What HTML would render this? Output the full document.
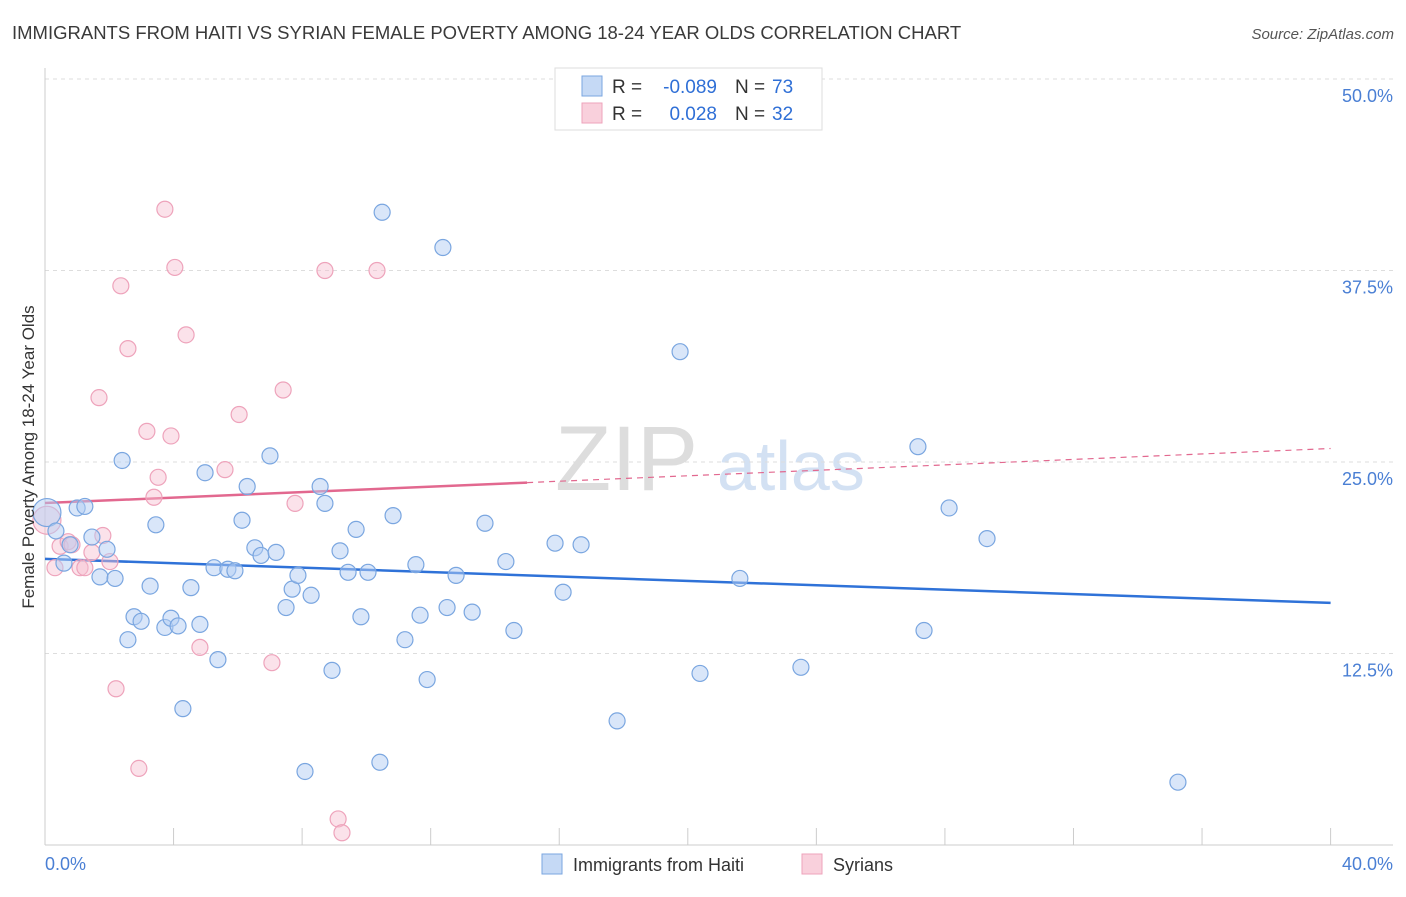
<!DOCTYPE html>
<html><head><meta charset="utf-8"><style>
body{margin:0;background:#fff;font-family:"Liberation Sans",sans-serif;}
svg text{font-family:"Liberation Sans",sans-serif;}
</style></head><body>
<svg id="chart" width="1406" height="892" viewBox="0 0 1406 892" xmlns="http://www.w3.org/2000/svg">
<text x="12" y="39" font-size="18.5" fill="#3a3a3a">IMMIGRANTS FROM HAITI VS SYRIAN FEMALE POVERTY AMONG 18-24 YEAR OLDS CORRELATION CHART</text>
<text x="1394" y="39" font-size="15" fill="#555" text-anchor="end" font-style="italic">Source: ZipAtlas.com</text>
<g>
<text x="555" y="490" font-size="92" fill="#ddd" font-family="Liberation Serif, serif">ZIP</text>
<text x="717" y="490" font-size="70" fill="#d3e1f3">atlas</text>
</g>
<g id="grid"></g>
<g id="axes"></g>
<g id="lines"></g>
<g id="pts"></g>
<text transform="translate(34,457) rotate(-90)" font-size="17" fill="#333" text-anchor="middle">Female Poverty Among 18-24 Year Olds</text>
<g>
<rect x="555" y="68" width="267" height="62" fill="#fff" stroke="#ddd"/>
<rect x="582" y="76" width="20" height="20" fill="#c5d9f5" stroke="#7aa6e0"/>
<rect x="582" y="103" width="20" height="20" fill="#f9d0dc" stroke="#eea3bb"/>
<text x="612" y="93" font-size="19" fill="#333">R =</text>
<text x="717" y="93" font-size="19" fill="#2f6fd6" text-anchor="end">-0.089</text>
<text x="735" y="93" font-size="19" fill="#333">N =</text>
<text x="772" y="93" font-size="19" fill="#2f6fd6">73</text>
<text x="612" y="120" font-size="19" fill="#333">R =</text>
<text x="717" y="120" font-size="19" fill="#2f6fd6" text-anchor="end">0.028</text>
<text x="735" y="120" font-size="19" fill="#333">N =</text>
<text x="772" y="120" font-size="19" fill="#2f6fd6">32</text>
</g>
<g>
<rect x="542" y="854" width="20" height="20" fill="#c5d9f5" stroke="#7aa6e0"/>
<text x="573" y="871" font-size="18" fill="#333">Immigrants from Haiti</text>
<rect x="802" y="854" width="20" height="20" fill="#f9d0dc" stroke="#eea3bb"/>
<text x="833" y="871" font-size="18" fill="#333">Syrians</text>
</g>
</svg>
<script>
const blueX=[0.06,0.34,1.0,1.24,0.59,0.78,1.46,1.93,1.71,2.18,2.40,2.58,2.77,2.99,3.27,3.45,3.73,3.92,4.14,4.29,4.54,4.82,4.98,5.26,5.38,5.69,5.91,6.13,6.29,6.53,6.72,7.00,7.19,7.50,7.69,7.87,8.09,8.28,8.56,8.71,8.93,9.18,9.43,9.68,9.83,10.05,10.42,10.49,10.83,11.20,11.54,11.67,11.89,12.38,12.51,12.79,13.29,13.69,14.34,14.59,15.87,16.12,16.68,17.80,19.76,20.38,21.62,23.52,27.16,27.35,28.13,29.31,35.25];
const blueY=[21.7,20.5,22.0,22.1,18.4,19.6,20.1,19.3,17.5,17.4,25.1,13.4,14.9,14.6,16.9,20.9,14.2,14.8,14.3,8.9,16.8,14.4,24.3,18.1,12.1,18.0,17.9,21.2,23.4,19.4,18.9,25.4,19.1,15.5,16.7,17.6,4.8,16.3,23.4,22.3,11.4,19.2,17.8,20.6,14.9,17.8,5.4,41.3,21.5,13.4,18.3,15.0,10.8,39.0,15.5,17.6,15.2,21.0,18.5,14.0,19.7,16.5,19.6,8.1,32.2,11.2,17.4,11.6,26.0,14.0,22.0,20.0,4.1];
const pinkX=[0.06,0.31,0.47,0.72,0.84,1.09,1.24,1.46,1.80,2.02,1.68,2.21,2.36,2.58,2.92,3.17,3.39,3.52,3.73,3.92,4.04,4.39,4.82,5.60,6.04,7.06,7.41,7.78,8.71,9.12,9.24,10.33];
const pinkY=[21.2,18.1,19.5,19.8,19.6,18.1,18.1,19.1,20.2,18.5,29.2,10.2,36.5,32.4,5.0,27.0,22.7,24.0,41.5,26.7,37.7,33.3,12.9,24.5,28.1,11.9,29.7,22.3,37.5,1.7,0.8,37.5];
const yTicks=[12.5,25.0,37.5,50.0];
const xTickVals=[0,4,8,12,16,20,24,28,32,36,40];
const xLabels=["0.0%","40.0%"];
const NS="http://www.w3.org/2000/svg";
const X=v=>45+v*32.14, Y=v=>845-v*15.32;
function mk(p,tag,a){const e=document.createElementNS(NS,tag);for(const k in a)e.setAttribute(k,a[k]);document.getElementById(p).appendChild(e);return e;}
yTicks.forEach(t=>{
 const l=mk('grid','line',{x1:45,x2:1393,y1:Y(t),y2:Y(t),stroke:'#ddd','stroke-dasharray':'4,4'});
 
 
 const tx=mk('grid','text',{x:1393,y:Y(t)+23,'font-size':18,fill:'#4a7fd4','text-anchor':'end'});
 tx.textContent=t.toFixed(1)+'%';
 
 
});
mk('axes','line',{x1:45,x2:45,y1:68,y2:845,stroke:'#ccc'});
mk('axes','line',{x1:45,x2:1393,y1:845,y2:845,stroke:'#ccc'});
xTickVals.forEach(v=>{const t=mk('axes','line',{x1:X(v),x2:X(v),y1:828,y2:845,stroke:'#ccc'});
 
 });
const l0=mk('axes','text',{x:45,y:870,'font-size':18,fill:'#4a7fd4'});l0.textContent=xLabels[0];


const l1=mk('axes','text',{x:1393,y:870,'font-size':18,fill:'#4a7fd4','text-anchor':'end'});l1.textContent=xLabels[1];


function reg(xs,ys){const n=xs.length;let mx=0,my=0;xs.forEach((x,i)=>{mx+=x;my+=ys[i]});mx/=n;my/=n;let sxy=0,sxx=0;xs.forEach((x,i)=>{sxy+=(x-mx)*(ys[i]-my);sxx+=(x-mx)**2});const b=sxy/sxx;return [my-b*mx,b];}
const [ba,bb]=reg(blueX,blueY),[pa,pb]=reg(pinkX,pinkY);
const bl=mk('lines','line',{x1:X(0),y1:Y(ba),x2:X(40),y2:Y(ba+bb*40),stroke:'#2f72d8','stroke-width':2.5});


const pl=mk('lines','line',{x1:X(0),y1:Y(pa),x2:X(15),y2:Y(pa+pb*15),stroke:'#e2688f','stroke-width':2.5});


const pd=mk('lines','line',{x1:X(15),y1:Y(pa+pb*15),x2:X(40),y2:Y(pa+pb*40),stroke:'#e2688f','stroke-width':1.2,'stroke-dasharray':'6,5'});


pinkX.forEach((x,i)=>{const c=mk('pts','circle',{cx:X(x),cy:Y(pinkY[i]),r:i==0?14:8,fill:'rgba(247,190,208,0.45)',stroke:'#eea3bb','stroke-width':1.2});
 
 });
blueX.forEach((x,i)=>{const c=mk('pts','circle',{cx:X(x),cy:Y(blueY[i]),r:i==0?14:8,fill:'rgba(180,206,243,0.5)',stroke:'#7aa6e0','stroke-width':1.2});
 
 });
</script>
</body></html>
